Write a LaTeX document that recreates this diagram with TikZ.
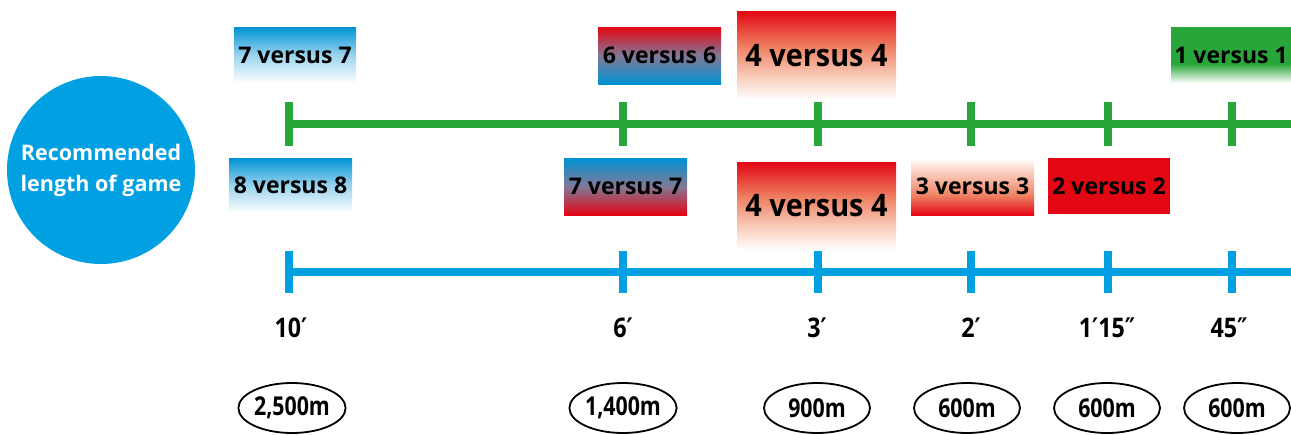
\documentclass[tikz,border=0pt]{standalone}
\usepackage{fontspec}
\usepackage{graphicx}
\setmainfont{Open Sans}
\newfontfamily\primef{DejaVu Sans}
\newcommand\mnt{{\primef\char"2032}}
\newcommand\sct{{\primef\char"2033}}
\usetikzlibrary{shapes.geometric}
\definecolor{gvgreen}{RGB}{41,166,57}
\definecolor{gvblue}{RGB}{0,160,227}
\definecolor{boxblue}{RGB}{0,146,212}
\definecolor{gvred}{RGB}{227,6,19}
\definecolor{salmon}{RGB}{238,128,98}
\definecolor{salmonlight}{RGB}{249,205,188}
\definecolor{mauve}{RGB}{130,120,150}
\pgfdeclareverticalshading{greenfade}{100bp}{color(0bp)=(white); color(25bp)=(white); color(42bp)=(gvgreen); color(100bp)=(gvgreen)}
\pgfdeclareverticalshading{redfade}{100bp}{color(0bp)=(white); color(25bp)=(white); color(38bp)=(salmonlight); color(55bp)=(salmon); color(75bp)=(gvred); color(100bp)=(gvred)}
\pgfdeclareverticalshading{redrise}{100bp}{color(0bp)=(gvred); color(25bp)=(gvred); color(42bp)=(salmon); color(62bp)=(salmonlight); color(75bp)=(white); color(100bp)=(white)}
\pgfdeclareverticalshading{bluefade}{100bp}{color(0bp)=(white); color(25bp)=(white); color(50bp)=(boxblue!40!white); color(75bp)=(boxblue); color(100bp)=(boxblue)}
\pgfdeclareverticalshading{redblue}{100bp}{color(0bp)=(boxblue); color(25bp)=(boxblue); color(50bp)=(mauve); color(75bp)=(gvred); color(100bp)=(gvred)}
\pgfdeclareverticalshading{bluered}{100bp}{color(0bp)=(gvred); color(25bp)=(gvred); color(50bp)=(mauve); color(75bp)=(boxblue); color(100bp)=(boxblue)}
\tikzset{
  vbox/.style={inner sep=0pt, minimum width=123pt, minimum height=56pt, text=black,
    font=\bfseries\fontsize{23}{27}\selectfont},
  bigbox/.style={vbox, minimum width=159pt, minimum height=88pt,
    font=\bfseries\fontsize{31}{35}\selectfont},
  gline/.style={draw=gvgreen, line width=7.5pt},
  bline/.style={draw=gvblue, line width=7.5pt},
  timelbl/.style={inner sep=0pt, font=\bfseries\fontsize{27}{30}\selectfont},
  distell/.style={ellipse, draw=black, line width=1.8pt, inner sep=0pt,
    minimum width=106pt, minimum height=50pt, font=\bfseries\fontsize{26}{30}\selectfont}
}
\begin{document}
\begin{tikzpicture}[x=1pt,y=-1pt]
\useasboundingbox (0,0) rectangle (1291,434);
% circle
\node[circle, fill=gvblue, minimum size=188pt, inner sep=0pt, text=white, align=center,
  font=\bfseries\fontsize{21.5}{31}\selectfont] (rec) at (101,170) {Recommended\\length of game};
% green timeline
\coordinate (g1) at (289,124);
\coordinate (g2) at (623,124);
\coordinate (g3) at (818,124);
\coordinate (g4) at (971,124);
\coordinate (g5) at (1108,124);
\coordinate (g6) at (1232,124);
\coordinate (gend) at (1291,124);
\draw[gline] (g1) -- (gend);
\foreach \k in {g1,g2,g3,g4,g5,g6}{
  \draw[gline] ([yshift=22pt]\k) -- ([yshift=-22pt]\k);
}
% blue timeline
\coordinate (b1) at (289,272);
\coordinate (b2) at (623,272);
\coordinate (b3) at (818,272);
\coordinate (b4) at (971,272);
\coordinate (b5) at (1108,272);
\coordinate (b6) at (1232,272);
\coordinate (bend) at (1291,272);
\draw[bline] (b1) -- (bend);
\foreach \k in {b1,b2,b3,b4,b5,b6}{
  \draw[bline] ([yshift=21pt]\k) -- ([yshift=-21pt]\k);
}
% top boxes
\node[vbox, shading=bluefade, minimum width=122pt] (t77) at (295,55) {7 versus 7};
\node[vbox, shading=redblue, minimum height=57pt] (t66) at (659.5,55.5) {6 versus 6};
\node[bigbox, shading=redfade, minimum height=89pt] (t44) at (816.5,55.5) {\scalebox{0.93}[1]{4 versus 4}};
\node[vbox, shading=greenfade, minimum width=120pt] (t11) at (1231,55) {1 versus 1};
% bottom boxes
\node[vbox, shading=bluefade, minimum height=55pt] (b88) at (290.5,185.5) {8 versus 8};
\node[vbox, shading=bluered, minimum height=57pt] (b77) at (625.5,186.5) {7 versus 7};
\node[bigbox, shading=redfade] (b44) at (816.5,206) {\scalebox{0.93}[1]{4 versus 4}};
\node[vbox, shading=redrise, minimum height=57pt] (b33) at (972.5,186.5) {3 versus 3};
\node[vbox, fill=gvred, minimum width=122pt] (b22) at (1109,186) {2 versus 2};
% time labels
\node[timelbl] (l1) at (291,328) {\scalebox{0.86}[1]{10\mnt}};
\node[timelbl] (l2) at (623,328) {\scalebox{0.86}[1]{6\mnt}};
\node[timelbl] (l3) at (817,328) {\scalebox{0.86}[1]{3\mnt}};
\node[timelbl] (l4) at (971,328) {\scalebox{0.86}[1]{2\mnt}};
\node[timelbl] (l5) at (1107,328) {\scalebox{0.86}[1]{1\mnt15\sct}};
\node[timelbl] (l6) at (1229,328) {\scalebox{0.86}[1]{45\sct}};
% distances
\node[distell] (d1) at (292,408) {\scalebox{0.82}[1]{2,500m}};
\node[distell] (d2) at (623,408) {\scalebox{0.82}[1]{1,400m}};
\node[distell] (d3) at (817,408) {\scalebox{0.82}[1]{900m}};
\node[distell] (d4) at (967,408) {\scalebox{0.82}[1]{600m}};
\node[distell] (d5) at (1107,408) {\scalebox{0.82}[1]{600m}};
\node[distell] (d6) at (1237,408) {\scalebox{0.82}[1]{600m}};
\end{tikzpicture}
\end{document}
